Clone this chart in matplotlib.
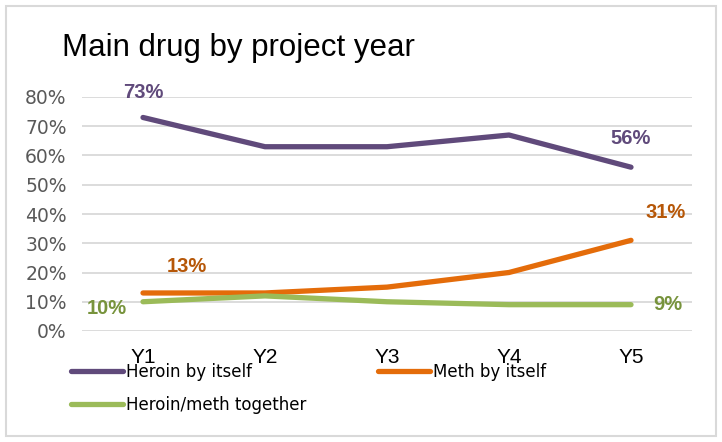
import matplotlib
matplotlib.use("Agg")
import matplotlib.pyplot as plt
from matplotlib.patches import Rectangle

years = ["Y1", "Y2", "Y3", "Y4", "Y5"]
heroin = [73, 63, 63, 67, 56]
meth = [13, 13, 15, 20, 31]
together = [10, 12, 10, 9, 9]
y_ticks = [0, 10, 20, 30, 40, 50, 60, 70, 80]

series_names = ["Heroin by itself", "Meth by itself", "Heroin/meth together"]
line_colors = ["#604A7B", "#E46C0A", "#9BBB59"]
label_colors = ["#604A7B", "#B65708", "#77933C"]

fig = plt.figure(figsize=(7.22, 4.42), dpi=100)
fig.patch.set_facecolor("white")
fig.add_artist(Rectangle((6 / 722, 6 / 442), 710 / 722, 430 / 442,
                         transform=fig.transFigure, fill=False,
                         edgecolor="#d9d9d9", linewidth=1.5))

ax = fig.add_axes([82 / 722, 1 - 331 / 442, 610 / 722, 234 / 442])
x = list(range(len(years)))
ax.set_xlim(-0.5, len(years) - 0.5)
ax.set_ylim(0, 80)

for v in y_ticks:
    ax.axhline(v, color="#d9d9d9", linewidth=1.3, zorder=0)

handles = []
for vals, name, c in zip([heroin, meth, together], series_names, line_colors):
    (ln,) = ax.plot(x, vals, color=c, linewidth=3.8, solid_capstyle="round",
                    label=name, zorder=3)
    handles.append(ln)

for s in ax.spines.values():
    s.set_visible(False)

ax.set_yticks(y_ticks)
ax.set_yticklabels([f"{v}%" for v in y_ticks], color="#595959",
                   fontsize=13.5, family="DejaVu Sans")
ax.set_xticks(x)
ax.set_xticklabels(years, fontsize=15, family="Liberation Sans", color="black")
ax.tick_params(axis="both", length=0)
ax.tick_params(axis="y", pad=11)
ax.tick_params(axis="x", pad=12)

lab = dict(fontsize=14.5, fontweight="bold", family="Liberation Sans",
           clip_on=False, zorder=4, ha="center", va="center",
           textcoords="offset pixels")
ax.annotate(f"{heroin[0]}%", (x[0], heroin[0]), xytext=(0, 25),
            color=label_colors[0], **lab)
ax.annotate(f"{heroin[4]}%", (x[4], heroin[4]), xytext=(0, 29),
            color=label_colors[0], **lab)
ax.annotate(f"{meth[0]}%", (x[0], meth[0]), xytext=(44, 26),
            color=label_colors[1], **lab)
ax.annotate(f"{meth[4]}%", (x[4], meth[4]), xytext=(35, 28),
            color=label_colors[1], **lab)
ax.annotate(f"{together[0]}%", (x[0], together[0]), xytext=(-36, -7),
            color=label_colors[2], **lab)
ax.annotate(f"{together[4]}%", (x[4], together[4]), xytext=(37, 0),
            color=label_colors[2], **lab)

fig.text(62 / 722, 1 - 48 / 442, "Main drug by project year", fontsize=22.5,
         family="Liberation Sans", color="black", va="center", ha="left")

fig.legend([handles[0], handles[2], handles[1]],
           [series_names[0], series_names[2], series_names[1]],
           ncol=2, loc="upper left",
           bbox_to_anchor=(56 / 722, 1 - 348 / 442),
           frameon=False, handlelength=3.1, handletextpad=0.2,
           columnspacing=4.3, labelspacing=0.9,
           prop={"family": "DejaVu Sans", "size": 12})

fig.savefig("out.png", dpi=100, facecolor="white")
